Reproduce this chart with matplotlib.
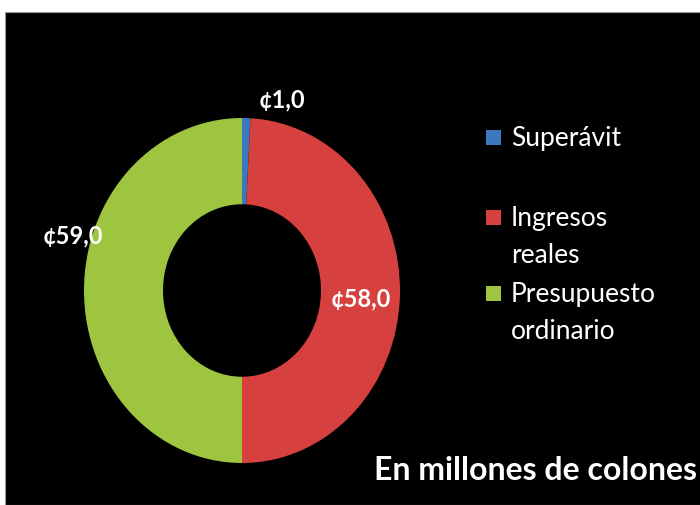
import matplotlib
matplotlib.use("Agg")
import matplotlib.pyplot as plt
from matplotlib.patches import Rectangle

# Datos (millones de colones)
categorias = ["Superávit", "Ingresos reales", "Presupuesto ordinario"]
etiquetas_leyenda = ["Superávit", "Ingresos\nreales", "Presupuesto\nordinario"]
valores = [1.0, 58.0, 59.0]
etiquetas_valor = ["¢1,0", "¢58,0", "¢59,0"]
colores = ["#3b78c0", "#d6403f", "#9dc53f"]

plt.rcParams["font.family"] = ["Lato", "DejaVu Sans"]

fig = plt.figure(figsize=(7.0, 5.05), dpi=100, facecolor="white")
# fondo negro de la diapositiva
fig.patches.append(Rectangle((5 / 700, 0), 700 / 700, 493 / 505,
                             transform=fig.transFigure, facecolor="black",
                             edgecolor="#9a9a9a", linewidth=0.8, zorder=-10))

# la dona aparece algo estirada en vertical en la imagen original
ax = fig.add_axes([84 / 700, 42 / 505, 316 / 700, 345 / 505])
ax.set_facecolor("none")
wedges, _ = ax.pie(valores, colors=colores, startangle=90, counterclock=False,
                   radius=1.0, wedgeprops=dict(width=0.5, linewidth=0))
ax.set_xlim(-1, 1)
ax.set_ylim(-1, 1)
ax.set_aspect("auto")
ax.axis("off")

# etiquetas de datos
pos_etiquetas = [(0.25, 1.105), (0.75, -0.047), (-1.07, 0.314)]
for texto, (x, y) in zip(etiquetas_valor, pos_etiquetas):
    ax.text(x, y, texto, color="white", fontsize=17, fontweight="bold",
            ha="center", va="center", clip_on=False)

# leyenda
leg_y = [137, 217, 293]
for etiqueta, color, y in zip(etiquetas_leyenda, colores, leg_y):
    fy = 1 - y / 505
    fig.patches.append(Rectangle((486 / 700, fy - 8 / 505), 15 / 700, 15 / 505,
                                 transform=fig.transFigure, facecolor=color,
                                 edgecolor="none", zorder=3))
    fig.text(511 / 700, fy + 11 / 505, etiqueta, color="white", fontsize=19,
             ha="left", va="top", linespacing=1.6)

fig.text(697 / 700, 1 - 470 / 505, "En millones de colones", color="white",
         fontsize=23, fontweight="bold", ha="right", va="center")

fig.savefig("out.png", dpi=100, facecolor="white")
